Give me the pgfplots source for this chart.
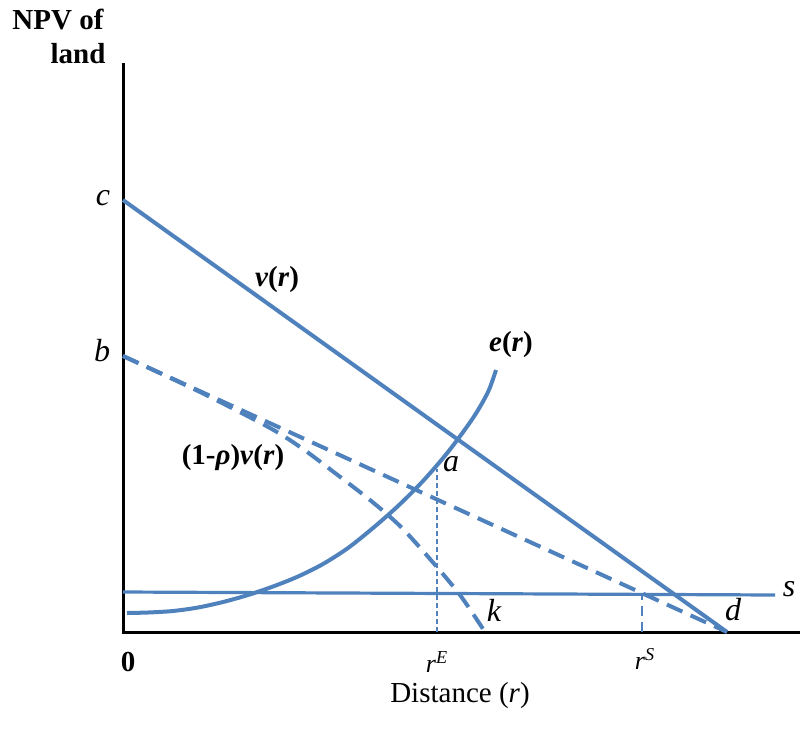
\documentclass[border=0pt]{standalone}
\usepackage{pgfplots}
\pgfplotsset{compat=1.18}
\usepackage{fontspec}
\setmainfont{Liberation Serif}

\definecolor{lineblue}{RGB}{79,129,189}

\begin{document}
\begin{tikzpicture}
\begin{axis}[
    hide axis,
    scale only axis,
    width=401pt,
    height=368pt,
    xmin=-123, xmax=679,
    ymin=-104, ymax=632,
    clip=false,
]
\path (axis cs:-123,-104) rectangle (axis cs:679,632);

% axes
\addplot[black, line width=1.5pt] coordinates {(0,569) (0,0) (677,0)};

% s line
\addplot[lineblue, line width=1.6pt] coordinates {(0,40) (652,37)};

% v(r)
\addplot[lineblue, line width=2pt] coordinates {(0,432) (604,0)};

% (1-rho)v(r)
\addplot[lineblue, line width=2pt, dash pattern=on 8.5pt off 4.5pt] coordinates {(0,276) (604,0)};

% lower dashed curve to k
\addplot[lineblue, line width=2pt, dash pattern=on 8.5pt off 4.5pt, smooth] coordinates {
    (0,276) (77,240) (147,204) (180,183) (212,159) (247,132) (277,106) (307,73) (337,37) (362,0)
};

% e(r)
\addplot[lineblue, line width=2pt, smooth] coordinates {
    (4,19) (25,19.5) (50,21) (75,24.5) (100,30) (125,37) (150,45.5) (175,55.5) (200,68)
    (225,84) (250,104) (275,126) (300,151) (325,180) (350,214) (365,240) (373,262)
};

% vertical dashed guides
\addplot[lineblue, line width=0.8pt, dash pattern=on 2.5pt off 1.5pt] coordinates {(314,0) (314,163)};
\addplot[lineblue, line width=1pt, dash pattern=on 5pt off 3pt] coordinates {(519,0) (519,37)};

% labels
\node[font=\fontsize{14.5}{17}\selectfont\bfseries] at (axis cs:-65,612) {NPV of};
\node[font=\fontsize{14.5}{17}\selectfont\bfseries] at (axis cs:-45,578) {land};
\node[font=\fontsize{16}{18}\selectfont\itshape] at (axis cs:-20,434) {c};
\node[font=\fontsize{16}{18}\selectfont\itshape] at (axis cs:-21,281) {b};
\node[font=\fontsize{14.5}{17}\selectfont\bfseries] at (axis cs:154,352) {\textit{v}(\textit{r})};
\node[font=\fontsize{14.5}{17}\selectfont\bfseries] at (axis cs:110,174) {(1-\textit{ρ})\textit{v}(\textit{r})};
\node[font=\fontsize{14.5}{17}\selectfont\bfseries] at (axis cs:388,287) {\textit{e}(\textit{r})};
\node[font=\fontsize{16}{18}\selectfont\itshape] at (axis cs:328,168) {a};
\node[font=\fontsize{16}{18}\selectfont\itshape] at (axis cs:371,22) {k};
\node[font=\fontsize{16}{18}\selectfont\itshape] at (axis cs:610,22) {d};
\node[font=\fontsize{16}{18}\selectfont\itshape] at (axis cs:666,43) {s};
\node[font=\fontsize{14.5}{17}\selectfont\bfseries] at (axis cs:5,-30) {0};
\node[font=\fontsize{13}{15}\selectfont, inner sep=1pt] at (axis cs:314,-30) {\textit{r}\textsuperscript{\textit{E}}};
\node[font=\fontsize{13}{15}\selectfont, inner sep=1pt] at (axis cs:522,-27) {\textit{r}\textsuperscript{\textit{S}}};
\node[font=\fontsize{14.5}{17}\selectfont, inner sep=1pt] at (axis cs:337,-64) {Distance (\textit{r})};
\end{axis}
\end{tikzpicture}
\end{document}
